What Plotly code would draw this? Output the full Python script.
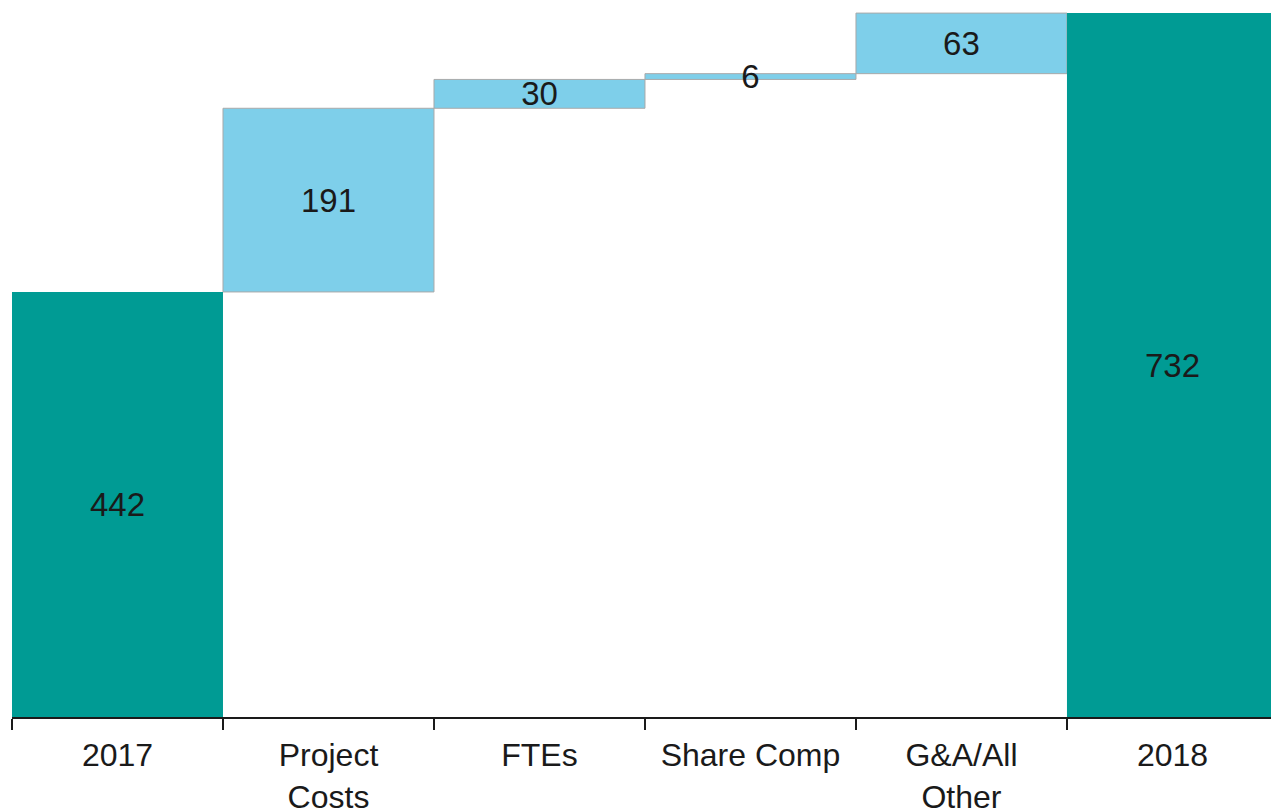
import plotly.graph_objects as go

categories = ["2017", "Project<br>Costs", "FTEs", "Share Comp", "G&A/All<br>Other", "2018"]
values = [442, 191, 30, 6, 63, 732]
measures = ["absolute", "relative", "relative", "relative", "relative", "total"]
labels = ["442", "191", "30", "6", "63", "732"]

FONT = "Liberation Sans, Arial"
FS = 33
TXT = "#1a1a1a"

fig = go.Figure(go.Waterfall(
    x=categories,
    y=values,
    measure=measures,
    text=labels,
    textposition="inside",
    insidetextanchor="middle",
    textangle=0,
    textfont=dict(family=FONT, size=FS, color=TXT),
    insidetextfont=dict(family=FONT, size=FS, color=TXT),
    increasing=dict(marker=dict(color="#7ecfea", line=dict(color="#a9a9a9", width=1))),
    decreasing=dict(marker=dict(color="#7ecfea", line=dict(color="#a9a9a9", width=1))),
    totals=dict(marker=dict(color="#009b94", line=dict(color="#009b94", width=0))),
    connector=dict(visible=False),
    width=1.0,
    hoverinfo="skip",
))

fig.update_layout(
    width=1271, height=811,
    margin=dict(l=12, r=0, t=0, b=94),
    paper_bgcolor="white", plot_bgcolor="white",
    showlegend=False,
    uniformtext=dict(minsize=FS, mode="show"),
    font=dict(family=FONT, size=FS, color=TXT),
    bargap=0,
)
fig.update_xaxes(
    type="category",
    range=[-0.5, 5.467],
    automargin=False,
    showline=True, linecolor="#1a1a1a", linewidth=2,
    ticks="outside", tickson="boundaries", ticklen=11, tickwidth=1.5, tickcolor="#1a1a1a",
    ticklabelstandoff=9,
    showgrid=False, zeroline=False,
    tickfont=dict(family=FONT, size=32, color=TXT),
)
fig.update_yaxes(
    range=[0, 745.6],
    automargin=False,
    visible=False, showgrid=False, zeroline=False,
)

fig.write_html(
    "out.html",
    config={"displayModeBar": False},
    post_script="document.body.style.margin='0px';document.body.style.overflow='hidden';",
)
